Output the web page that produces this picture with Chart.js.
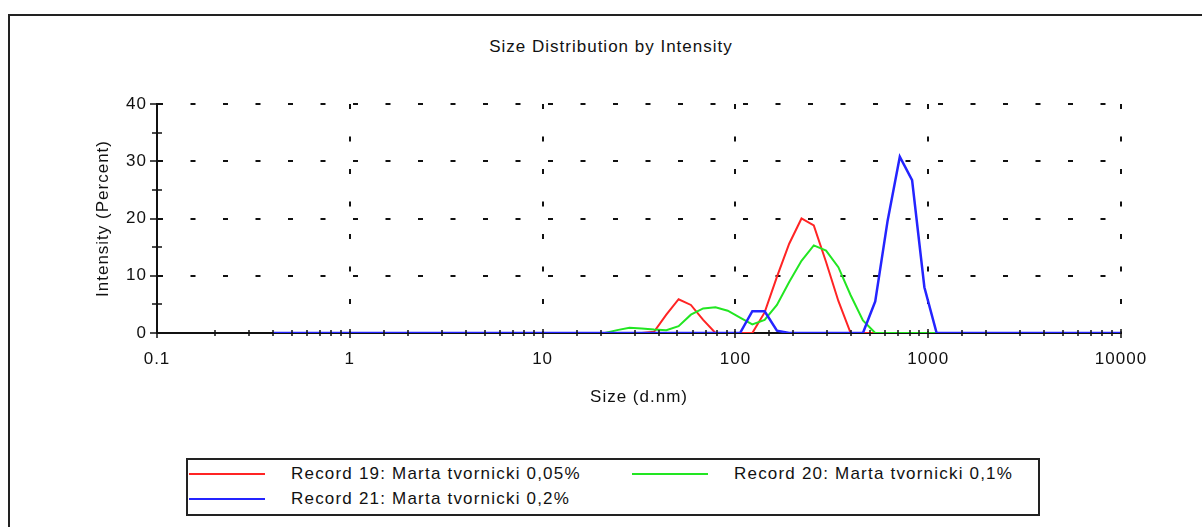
<!DOCTYPE html>
<html>
<head>
<meta charset="utf-8">
<script src="https://cdn.jsdelivr.net/npm/chart.js@4.4.0/dist/chart.umd.min.js"></script>
<style>
  html,body{margin:0;padding:0;background:#fff;}
  body{width:1202px;height:527px;position:relative;overflow:hidden;font-family:"Liberation Sans",Arial,sans-serif;}
  #frame{position:absolute;left:8px;top:14px;width:1300px;height:600px;border-left:2px solid #222;border-top:2px solid #222;}
  #wrap{position:absolute;left:0;top:0;width:1202px;height:527px;}
  #title{position:absolute;left:0;top:37px;width:1222px;text-align:center;font-size:17px;line-height:20px;letter-spacing:1px;color:#111;}
  #legend{position:absolute;left:186px;top:458px;width:850px;height:54px;border:2px solid #222;background:#fff;}
  .item{position:absolute;height:22px;line-height:22px;font-size:17px;letter-spacing:1.2px;color:#111;white-space:nowrap;}
  .item .sw{position:absolute;left:0;top:10px;width:76px;height:2px;}
  .item .tx{position:absolute;top:0;}
</style>
</head>
<body>
<div id="frame"></div>
<div id="title">Size Distribution by Intensity</div>
<div id="wrap"><canvas id="c"></canvas></div>
<div id="legend"></div>
<script>
// size classes (d.nm)
const sizes = [0.4,0.4632,0.5365,0.6213,0.7195,0.8332,0.9649,1.117,1.294,1.499,
  1.736,2.010,2.328,2.696,3.122,3.615,4.187,4.849,5.615,6.503,
  7.531,8.721,10.10,11.70,13.54,15.69,18.17,21.04,24.36,28.21,
  32.67,37.84,43.82,50.75,58.77,68.06,78.82,91.28,105.7,122.4,
  141.8,164.2,190.1,220.2,255.0,295.3,342.0,396.1,458.7,531.2,
  615.1,712.4,825.0,955.4,1106,1281,1484,1718,1990,2305,
  2669,3091,3580,4145,4801,5560,6439,7456,8635,10000];

// intensity (%)
const record19 = [0,0,0,0,0,0,0,0,0,0, 0,0,0,0,0,0,0,0,0,0,
  0,0,0,0,0,0,0,0,0,0, 0,0.2,3.2,5.9,4.9,2.3,0,0,0,0,
  3.6,9.8,15.6,20.0,18.8,12.4,5.6,0,0,0, 0,0,0,0,0,0,0,0,0,0,
  0,0,0,0,0,0,0,0,0,0];
const record20 = [0,0,0,0,0,0,0,0,0,0, 0,0,0,0,0,0,0,0,0,0,
  0,0,0,0,0,0,0,0,0.5,0.9, 0.8,0.6,0.5,1.2,3.2,4.3,4.5,3.9,2.7,1.5,
  2.3,4.9,8.9,12.6,15.3,14.4,11.5,6.6,2.2,0, 0,0,0,0,0,0,0,0,0,0,
  0,0,0,0,0,0,0,0,0,0];
const record21 = [0,0,0,0,0,0,0,0,0,0, 0,0,0,0,0,0,0,0,0,0,
  0,0,0,0,0,0,0,0,0,0, 0,0,0,0,0,0,0,0,0,3.8,
  3.8,0.4,0,0,0,0,0,0,0,5.5, 19.5,30.8,26.7,8.0,0,0,0,0,0,0,
  0,0,0,0,0,0,0,0,0,0];

const seriesNames = ['Record 19: Marta tvornicki 0,05%','Record 20: Marta tvornicki 0,1%','Record 21: Marta tvornicki 0,2%'];
const seriesColors = ['#ff2424','#22e622','#2424ff'];

const xTicks = [0.1,1,10,100,1000,10000];
const xTickLabels = ['0.1','1','10','100','1000','10000'];
const yTicks = [0,10,20,30,40];
const yTickLabels = ['0','10','20','30','40'];

const FONT = '"Liberation Sans", Arial, sans-serif';
const TXT = '#111';

function decadeIndex(v){
  return xTicks.findIndex(t => Math.abs(Math.log10(t) - Math.log10(v)) < 1e-6);
}

// the report font is a bit wider than Arial
const wideText = {
  id:'wideText',
  beforeDraw(chart){ chart.ctx.letterSpacing = '1px'; }
};

// small tick marks that cross the axes, drawn over the lines like the original
const axisMarks = {
  id:'axisMarks',
  afterDatasetsDraw(chart){
    const {ctx, chartArea:a, scales:{x,y}} = chart;
    ctx.save();
    ctx.strokeStyle = '#111';
    ctx.lineWidth = 1.5;
    ctx.beginPath();
    x.ticks.forEach(t=>{
      const px = Math.round(x.getPixelForValue(t.value));
      const major = decadeIndex(t.value) >= 0;
      ctx.moveTo(px, a.bottom - (major?4:3));
      ctx.lineTo(px, a.bottom + (major?5:3));
    });
    y.ticks.forEach(t=>{
      const py = Math.round(y.getPixelForValue(t.value));
      if (yTicks.includes(t.value)) { ctx.moveTo(a.left-7, py); ctx.lineTo(a.left, py); }
      else { ctx.moveTo(a.left-5, py); ctx.lineTo(a.left+5, py); }
    });
    ctx.stroke();
    ctx.restore();
  }
};

const records = [record19, record20, record21];
const datasets = records.map((r,i)=>({
  label: seriesNames[i],
  data: sizes.map((s,j)=>({x:s, y:r[j]})),
  borderColor: seriesColors[i],
  borderWidth: i==2 ? 2.5 : 2,
  pointRadius: 0,
  tension: 0,
  fill: false,
  order: 3 - i   // blue on top, red underneath
}));

new Chart(document.getElementById('c'),{
  type:'line',
  data:{datasets:datasets},
  plugins:[wideText, axisMarks],
  options:{
    responsive:true,
    maintainAspectRatio:false,
    animation:false,
    layout:{padding:{left:0,top:104,right:81,bottom:0}},
    plugins:{
      legend:{display:false},
      tooltip:{enabled:false},
      title:{display:false}
    },
    scales:{
      x:{
        type:'logarithmic',
        min:0.1, max:10000,
        afterFit(s){ s.height = 194; s.paddingLeft = 0; s.paddingRight = 0; },
        border:{display:true,color:'#111',width:2,dash:[5,27.5]},
        grid:{
          drawTicks:false,
          lineWidth:2,
          color: c => (c.tick && decadeIndex(c.tick.value) > 0) ? '#111' : 'rgba(0,0,0,0)'
        },
        ticks:{
          autoSkip:false, maxRotation:0, padding:15.8,
          color:TXT, font:{family:FONT,size:17},
          callback: v => { const i = decadeIndex(v); return i >= 0 ? xTickLabels[i] : ''; }
        },
        title:{display:true,text:'Size (d.nm)',color:TXT,font:{family:FONT,size:17},padding:{top:0,bottom:119.8}}
      },
      y:{
        min:0, max:40,
        afterFit(s){ s.width = 157; s.paddingTop = 0; s.paddingBottom = 0; },
        border:{display:true,color:'#111',width:2,dash:[5,27.5]},
        grid:{
          drawTicks:false,
          lineWidth:2,
          color: c => (c.tick && yTicks.includes(c.tick.value) && c.tick.value > 0) ? '#111' : 'rgba(0,0,0,0)'
        },
        ticks:{
          stepSize:5, padding:10,
          color:TXT, font:{family:FONT,size:17},
          callback: v => { const i = yTicks.indexOf(v); return i >= 0 ? yTickLabels[i] : ''; }
        },
        title:{display:true,text:'Intensity (Percent)',color:TXT,font:{family:FONT,size:17},padding:{top:92.8,bottom:0}}
      }
    }
  }
});

// legend box like the report: two columns
const slots = [{left:1,top:0},{left:444,top:0},{left:1,top:25}];
const leg = document.getElementById('legend');
seriesNames.forEach((n,i)=>{
  const d = document.createElement('div');
  d.className = 'item';
  d.style.left = slots[i].left + 'px';
  d.style.top = (slots[i].top + 3) + 'px';
  d.innerHTML = '<span class="sw" style="background:'+seriesColors[i]+'"></span><span class="tx" style="left:102px">'+n+'</span>';
  leg.appendChild(d);
});
</script>
</body>
</html>
